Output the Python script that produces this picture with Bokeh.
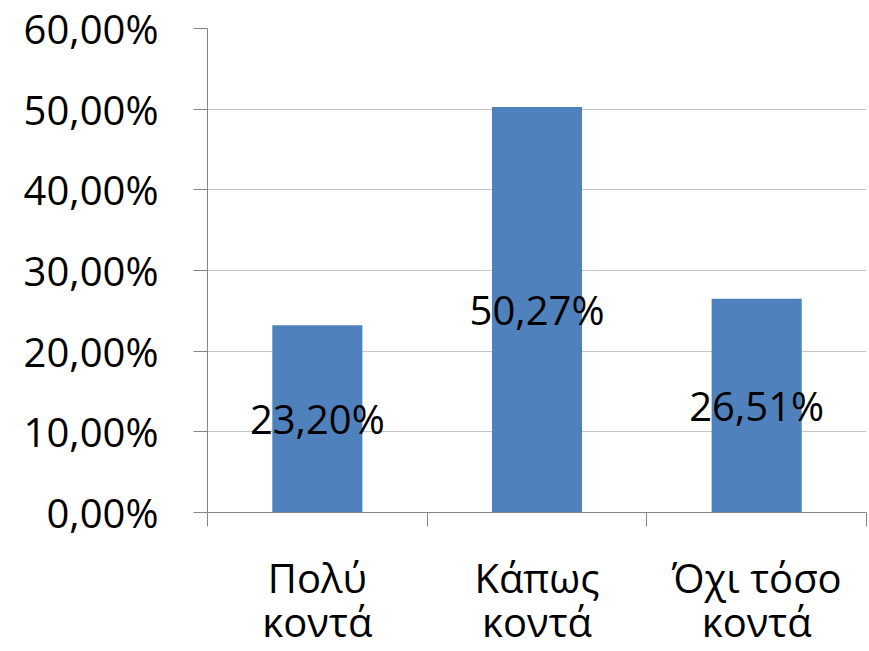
from bokeh.plotting import figure
from bokeh.models import ColumnDataSource, Range1d, FixedTicker, LinearAxis
from bokeh.core.properties import value
from bokeh.embed import file_html
from bokeh.resources import INLINE

cat_line1 = ["Πολύ", "Κάπως", "Όχι τόσο"]
cat_line2 = ["κοντά", "κοντά", "κοντά"]
values = [23.20, 50.27, 26.51]
y_ticks = [0, 10, 20, 30, 40, 50, 60]
y_tick_labels = ["0,00%", "10,00%", "20,00%", "30,00%", "40,00%", "50,00%", "60,00%"]

FONT = "Open Sans"
FS = "40px"

W, H = 869, 651
TOP, BOTTOM, LEFT, RIGHT = 28, 138, 207, 3

xs = list(range(1, len(values) + 1))
labels = [f"{v:.2f}".replace(".", ",") + "%" for v in values]
src = ColumnDataSource(dict(x=xs, top=values, mid=[v / 2 for v in values], label=labels))

p = figure(width=W, height=H, output_backend="svg", toolbar_location=None,
           x_range=Range1d(0.5, len(values) + 0.5), y_range=Range1d(0, 60),
           min_border_left=LEFT, min_border_right=RIGHT, min_border_top=TOP, min_border_bottom=BOTTOM)
p.outline_line_color = None
p.background_fill_color = "white"
p.border_fill_color = "white"

p.vbar(x="x", top="top", width=0.41, source=src, fill_color="#4F81BD", line_color=None)
p.text(x="x", y="mid", text="label", source=src, text_align="center", text_baseline="middle",
       text_font=value(FONT), text_font_size=FS, text_color="black")

# y axis
p.yaxis.ticker = FixedTicker(ticks=y_ticks, minor_ticks=[])
p.yaxis.major_label_overrides = {t: l for t, l in zip(y_ticks, y_tick_labels)}
p.yaxis.major_label_text_font = FONT
p.yaxis.major_label_text_font_size = FS
p.yaxis.major_label_text_color = "black"
p.yaxis.major_tick_out = 14
p.yaxis.major_tick_in = 0
p.yaxis.major_label_standoff = 35
p.yaxis.axis_line_color = "#868686"
p.yaxis.major_tick_line_color = "#868686"
p.ygrid.ticker = FixedTicker(ticks=y_ticks)
p.ygrid.grid_line_color = "#c6c6c6"

# x axis: separator ticks between categories + first line of category names
p.xaxis.ticker = FixedTicker(ticks=xs, minor_ticks=[x - 0.5 for x in xs] + [xs[-1] + 0.5])
p.xaxis.major_label_overrides = {x: c for x, c in zip(xs, cat_line1)}
p.xaxis.major_label_text_font = FONT
p.xaxis.major_label_text_font_size = FS
p.xaxis.major_label_text_color = "black"
p.xaxis.major_tick_line_color = None
p.xaxis.major_tick_out = 0
p.xaxis.major_tick_in = 0
p.xaxis.minor_tick_out = 14
p.xaxis.minor_tick_in = 0
p.xaxis.minor_tick_line_color = "#868686"
p.xaxis.major_label_standoff = 23
p.xaxis.axis_line_color = "#868686"
p.xgrid.grid_line_color = None

# second line of category names
ax2 = LinearAxis(ticker=FixedTicker(ticks=xs, minor_ticks=[]),
                 major_label_overrides={x: c for x, c in zip(xs, cat_line2)},
                 major_label_text_font=FONT, major_label_text_font_size=FS,
                 major_label_text_color="black", axis_line_color=None,
                 major_tick_line_color=None, minor_tick_line_color=None,
                 major_tick_out=0, major_tick_in=0, minor_tick_out=0, minor_tick_in=0,
                 major_label_standoff=-14)
p.add_layout(ax2, "below")

open("out.html", "w").write(file_html(p, INLINE))
